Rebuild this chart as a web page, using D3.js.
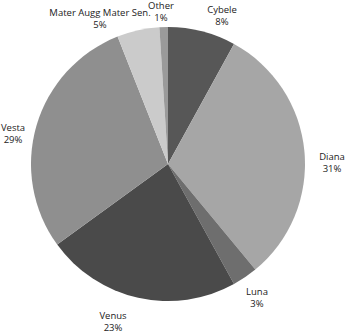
<!DOCTYPE html>
<html><head><meta charset="utf-8">
<script src="https://cdn.jsdelivr.net/npm/d3@7"></script>
<style>body{margin:0;background:#fff;}text{font-family:"Open Sans",sans-serif;font-size:9.5px;fill:#222;}</style>
</head><body><svg id="c" width="350" height="333"></svg>
<script>
const categories = ["Cybele","Diana","Luna","Venus","Vesta","Mater Augg Mater Sen.","Other"];
const values = [8,31,3,23,29,5,1];
const percentLabels = ["8%","31%","3%","23%","29%","5%","1%"];
const colors = ["#575757","#a6a6a6","#6e6e6e","#4a4a4a","#8f8f8f","#cbcbcb","#9a9a9a"];
const labelPos = [[222,13],[332,160],[257,295],[113,319],[13,131],[100,16],[161,9]];

const svg = d3.select("#c");
const cx = 168, cy = 164, r = 137;
const data = categories.map((c,i)=>({name:c,value:values[i],pct:percentLabels[i],color:colors[i],lp:labelPos[i]}));
const pie = d3.pie().value(d=>d.value).sort(null);
const arc = d3.arc().innerRadius(0).outerRadius(r);
const g = svg.append("g").attr("transform",`translate(${cx},${cy})`);
g.selectAll("path").data(pie(data)).join("path").attr("d",arc).attr("fill",d=>d.data.color);
const lab = svg.selectAll("g.lab").data(data).join("g").attr("class","lab");
lab.append("text").attr("x",d=>d.lp[0]).attr("y",d=>d.lp[1]).attr("text-anchor","middle").text(d=>d.name);
lab.append("text").attr("x",d=>d.lp[0]).attr("y",d=>d.lp[1]+12).attr("text-anchor","middle").text(d=>d.pct);
</script></body></html>
